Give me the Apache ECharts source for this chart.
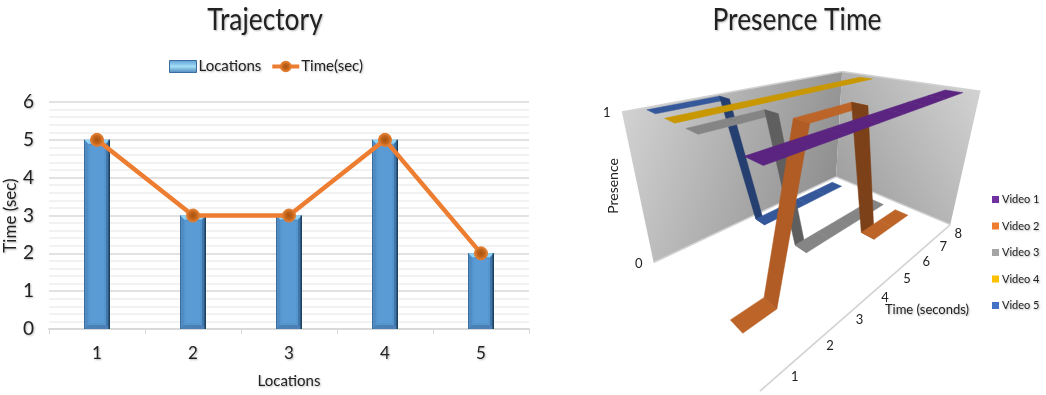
<!DOCTYPE html>
<html>
<head>
<meta charset="utf-8">
<style>html,body{margin:0;padding:0;background:#fff}#c{width:1046px;height:395px}</style>
<script src="https://cdn.jsdelivr.net/npm/echarts@6/dist/echarts.min.js"></script>
</head>
<body>
<div id="c"></div>
<script>
// Left chart data
const locationLabels = ['1', '2', '3', '4', '5'];
const locations = [5, 3, 3, 5, 2];
const timeSec = [5, 3, 3, 5, 2];

// Right chart data: presence of each video per second
const seconds = [1, 2, 3, 4, 5, 6, 7, 8];
const video1 = [1, 1, 1, 1, 1, 1, 1, 1];
const video2 = [0, 0, 1, 1, 1, 0, 0, 0];
const video3 = [1, 1, 1, 0, 0, 0, 0, 0];
const video4 = [1, 1, 1, 1, 1, 1, 1, 1];
const video5 = [1, 1, 1, 0, 0, 0, 0, 0];
const videoNames = ['Video 1', 'Video 2', 'Video 3', 'Video 4', 'Video 5'];
const videoSeries = [video1, video2, video3, video4, video5];
const presenceTicks = [0, 1];

const FONT = 'Lato';
const shadow = { textShadowColor: 'rgba(0,0,0,0.28)', textShadowBlur: 2, textShadowOffsetX: 1, textShadowOffsetY: 1 };
const legendColors = ['#7030a0', '#ed7d31', '#a5a5a5', '#ffc000', '#4472c4'];
const flatColors = ['#5b2480', '#bd6428', '#858585', '#c99700', '#35589a'];
const riseColors = ['#5b2480', '#b05c24', '#6f6f6f', '#c99700', '#2d4d88'];
const fallColors = ['#4a1d69', '#7c4118', '#5f5f5f', '#a87e00', '#243f70'];

// Perspective box: floor corners and the point where verticals converge
const floorA = [654, 264], floorB = [836, 178], floorC = [950, 226], floorD = [760, 393];
const topA = [622, 112], nadir = [793, 922];

function makeProjection() {
  const [x0, y0] = floorD, [x1, y1] = floorC, [x2, y2] = floorB, [x3, y3] = floorA;
  const dx1 = x1 - x2, dx2 = x3 - x2, sx = x0 - x1 + x2 - x3;
  const dy1 = y1 - y2, dy2 = y3 - y2, sy = y0 - y1 + y2 - y3;
  const den = dx1 * dy2 - dx2 * dy1;
  const g = (sx * dy2 - dx2 * sy) / den, h = (dx1 * sy - sx * dy1) / den;
  const a = x1 - x0 + g * x1, b = x3 - x0 + h * x3;
  const d = y1 - y0 + g * y1, e = y3 - y0 + h * y3;
  const l = (1 + h) * (topA[1] - floorA[1]) / (nadir[1] - topA[1]);
  return (u, v, w) => {
    const q = g * u + h * v + 1 + l * w;
    return [(a * u + b * v + x0 + l * w * nadir[0]) / q, (d * u + e * v + y0 + l * w * nadir[1]) / q];
  };
}
const project = makeProjection();

// The hidden grid turns (second, presence) into box fractions through its axes
const HG = { left: 0, top: 0, width: 400, height: 400 };
function boxPoint(api, t, p, v) {
  const c = api.coord([t, p]);
  return project((c[0] - HG.left) / HG.width, v, (HG.top + HG.height - c[1]) / HG.height);
}
const RIBBON_HALF = 0.05;
const depthOf = i => 0.105 + i * 0.2;

function ribbonSeries(i) {
  const vals = videoSeries[i];
  const segs = [];
  for (let k = 0; k < vals.length - 1; k++) segs.push([seconds[k], vals[k], seconds[k + 1], vals[k + 1]]);
  return {
    type: 'custom', name: videoNames[i], xAxisIndex: 1, yAxisIndex: 1, z: 10 - i, clip: false, silent: true,
    itemStyle: { color: legendColors[i] },
    data: segs,
    renderItem(params, api) {
      const t0 = api.value(0), p0 = api.value(1), t1 = api.value(2), p1 = api.value(3);
      const v = depthOf(i);
      const pts = [boxPoint(api, t0, p0, v - RIBBON_HALF), boxPoint(api, t0, p0, v + RIBBON_HALF),
                   boxPoint(api, t1, p1, v + RIBBON_HALF), boxPoint(api, t1, p1, v - RIBBON_HALF)];
      const col = p1 > p0 ? riseColors[i] : p1 < p0 ? fallColors[i] : flatColors[i];
      return { type: 'polygon', shape: { points: pts }, style: { fill: col, stroke: col, lineWidth: 0.5 } };
    },
    encode: { x: 0, y: 1 }
  };
}

const wallSeries = {
  type: 'custom', xAxisIndex: 1, yAxisIndex: 1, z: 1, clip: false, silent: true,
  data: [[0]],
  renderItem(params, api) {
    const a0 = boxPoint(api, 0.5, 0, 1), a1 = boxPoint(api, 0.5, 1, 1);
    const b0 = boxPoint(api, 8.5, 0, 1), b1 = boxPoint(api, 8.5, 1, 1);
    const c0 = boxPoint(api, 8.5, 0, 0), c1 = boxPoint(api, 8.5, 1, 0);
    const d0 = boxPoint(api, 0.5, 0, 0);
    const grad = (from, to, c1st, c2nd) => new echarts.graphic.LinearGradient(from[0], from[1], to[0], to[1],
      [{ offset: 0, color: c1st }, { offset: 1, color: c2nd }], true);
    const edge = (p, q) => ({ type: 'line', shape: { x1: p[0], y1: p[1], x2: q[0], y2: q[1] }, style: { stroke: '#d2d2d2', lineWidth: 1.5 } });
    return { type: 'group', children: [
      { type: 'polygon', shape: { points: [a0, a1, b1, b0] }, style: { fill: grad(a1, b0, '#d2d2d2', '#8f8f8f') } },
      { type: 'polygon', shape: { points: [b0, b1, c1, c0] }, style: { fill: grad(b0, c1, '#a0a0a0', '#d2d2d2') } },
      edge(a0, b0), edge(b0, c0), edge(d0, c0), edge(a1, b1), edge(b1, c1)
    ] };
  }
};

const TEXT3D = { fontFamily: FONT, fontSize: 13, fill: '#222' };
const timeTickSeries = {
  type: 'custom', xAxisIndex: 1, yAxisIndex: 1, z: 20, clip: false, silent: true,
  data: seconds.map(s => [s]),
  renderItem(params, api) {
    const p = boxPoint(api, api.value(0), 0, 0);
    return { type: 'text', x: p[0] + 15, y: p[1] + 3, style: { ...TEXT3D, text: String(api.value(0)), textAlign: 'center', textVerticalAlign: 'middle' } };
  }
};
const presenceTickSeries = {
  type: 'custom', xAxisIndex: 1, yAxisIndex: 1, z: 20, clip: false, silent: true,
  data: presenceTicks.map(s => [s]),
  renderItem(params, api) {
    const p = boxPoint(api, 0.5, api.value(0), 1);
    return { type: 'text', x: p[0] - 15, y: p[1] + 1, style: { ...TEXT3D, text: String(api.value(0)), textAlign: 'center', textVerticalAlign: 'middle' } };
  }
};

// Bevel overlay for the bars
const BAR_W = 26;
const bevelSeries = {
  type: 'custom', xAxisIndex: 0, yAxisIndex: 0, z: 3, silent: true,
  data: locations.map((v, i) => [i, v]),
  renderItem(params, api) {
    const top = api.coord([api.value(0), api.value(1)]);
    const base = api.coord([api.value(0), 0]);
    const l = top[0] - BAR_W / 2, r = top[0] + BAR_W / 2, t = top[1], b = base[1], m = 4;
    const poly = (pts, fill) => ({ type: 'polygon', shape: { points: pts }, style: { fill } });
    return { type: 'group', children: [
      poly([[l, t], [r, t], [r - m, t + m], [l + m, t + m]], '#8fd2f2'),
      poly([[l, t], [l + m, t + m], [l + m, b - m], [l, b]], '#4f8bc4'),
      poly([[r, t], [r - m, t + m], [r - m, b - m], [r, b]], '#3f75a8'),
      poly([[l, b], [l + m, b - m], [r - m, b - m], [r, b]], '#4a80b4'),
      { type: 'rect', shape: { x: r - 1.5, y: t, width: 1.5, height: b - t }, style: { fill: '#1f3f5f' } },
      { type: 'rect', shape: { x: l, y: t, width: 1, height: b - t }, style: { fill: '#3a6d9e' } },
      { type: 'rect', shape: { x: l + m + 1, y: t + m + 1, width: BAR_W - 2 * m - 2, height: b - t - 2 * m - 2 }, style: { fill: 'none', stroke: '#5290c8', lineWidth: 1 } }
    ] };
  }
};

const option = {
  animation: false,
  backgroundColor: '#fff',
  textStyle: { fontFamily: FONT },
  legend: [
    { left: 164, top: 54, itemGap: 9, itemWidth: 27, itemHeight: 12, selectedMode: false,
      textStyle: { fontFamily: FONT, fontSize: 15, color: '#222', padding: [0, 0, 0, -3], ...shadow },
      data: [
        { name: 'Locations', icon: 'rect', itemStyle: { borderColor: '#3a6d9e', borderWidth: 1,
          color: new echarts.graphic.LinearGradient(0, 0, 0, 1, [
            { offset: 0, color: '#5b9bd5' }, { offset: 0.5, color: '#a3def6' }, { offset: 1, color: '#4a83b8' }]) } },
        { name: 'Time(sec)', lineStyle: { width: 4 } }
      ] },
    { left: 987, top: 189, orient: 'vertical', itemGap: 15.5, itemWidth: 7, itemHeight: 7, icon: 'rect', selectedMode: false,
      textStyle: { fontFamily: FONT, fontSize: 11, color: '#222', padding: [0, 0, 0, -2], ...shadow },
      data: videoNames }
  ],
  grid: [
    { left: 49, top: 102, width: 480, height: 227 },
    { ...HG, containLabel: false }
  ],
  xAxis: [
    { type: 'category', gridIndex: 0, data: locationLabels, name: 'Locations', nameLocation: 'middle', nameGap: 45,
      nameTextStyle: { fontFamily: FONT, fontSize: 15, color: '#222', ...shadow },
      axisLine: { lineStyle: { color: '#d9d9d9', width: 2 } },
      axisTick: { show: true, length: 5, lineStyle: { color: '#d9d9d9' }, alignWithLabel: false },
      axisLabel: { fontFamily: FONT, fontSize: 17, color: '#222', margin: 16, ...shadow } },
    { type: 'value', gridIndex: 1, min: 0.5, max: 8.5, show: false }
  ],
  yAxis: [
    { type: 'value', gridIndex: 0, min: 0, max: 6, interval: 1, name: 'Time (sec)', nameLocation: 'middle', nameGap: 27,
      nameTextStyle: { fontFamily: FONT, fontSize: 17, color: '#222', ...shadow },
      axisLine: { show: false }, axisTick: { show: false },
      axisLabel: { fontFamily: FONT, fontSize: 19, color: '#222', margin: 15, ...shadow },
      splitLine: { lineStyle: { color: '#d9d9d9', width: 1.5 } },
      minorTick: { splitNumber: 5, show: false },
      minorSplitLine: { show: true, lineStyle: { color: '#eeeeee', width: 1.5 } } },
    { type: 'value', gridIndex: 1, min: 0, max: 1, show: false }
  ],
  graphic: [
    { type: 'text', x: 265, y: 20, scaleX: 0.85, style: { text: 'Trajectory', fontFamily: FONT, fontSize: 31, fill: '#222', textAlign: 'center', textVerticalAlign: 'middle', ...shadow } },
    { type: 'text', x: 797, y: 20, scaleX: 0.85, style: { text: 'Presence Time', fontFamily: FONT, fontSize: 31, fill: '#222', textAlign: 'center', textVerticalAlign: 'middle', ...shadow } },
    { type: 'text', x: 613, y: 186, rotation: Math.PI / 2, style: { text: 'Presence', fontFamily: FONT, fontSize: 14, fill: '#222', textAlign: 'center', textVerticalAlign: 'middle' } },
    { type: 'text', x: 927, y: 310, style: { text: 'Time (seconds)', fontFamily: FONT, fontSize: 13, fill: '#222', textAlign: 'center', textVerticalAlign: 'middle', ...shadow } }
  ],
  series: [
    { type: 'bar', name: 'Locations', xAxisIndex: 0, yAxisIndex: 0, data: locations, barWidth: BAR_W, z: 2,
      itemStyle: { color: '#5b9bd5' } },
    bevelSeries,
    { type: 'line', name: 'Time(sec)', xAxisIndex: 0, yAxisIndex: 0, data: timeSec, z: 5,
      lineStyle: { color: '#ed7d31', width: 4.5 }, symbol: 'circle', symbolSize: 13,
      itemStyle: { borderColor: '#e07a2c', borderWidth: 1,
        color: new echarts.graphic.RadialGradient(0.5, 0.5, 0.5, [
          { offset: 0, color: '#a8520f' }, { offset: 0.55, color: '#c4651c' }, { offset: 1, color: '#ee8a3c' }]) } },
    wallSeries,
    ...[4, 3, 2, 1, 0].map(ribbonSeries),
    timeTickSeries,
    presenceTickSeries
  ]
};

const chart = echarts.init(document.getElementById('c'), null, { renderer: 'canvas' });
chart.setOption(option);
</script>
</body>
</html>
